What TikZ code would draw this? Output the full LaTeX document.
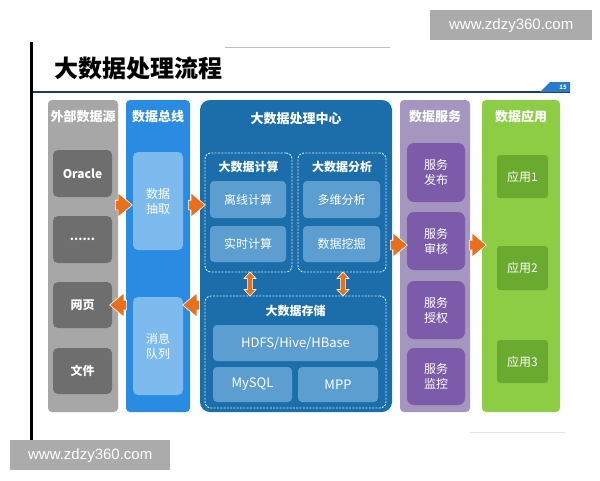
\documentclass[tikz,border=0pt]{standalone}
\usepackage{fontspec}
\newfontfamily\cjk{Noto Sans CJK SC}
\newfontfamily\wm{Liberation Sans}
\usetikzlibrary{shapes.arrows,fit}
\definecolor{cgray}{HTML}{A7A7A7}
\definecolor{cgrayin}{HTML}{6E6E6E}
\definecolor{cblue}{HTML}{2A8BE2}
\definecolor{cbluein}{HTML}{7DBBEE}
\definecolor{cdark}{HTML}{1C6EAA}
\definecolor{cdarkin}{HTML}{5C9ED0}
\definecolor{cpur}{HTML}{A596BF}
\definecolor{cpurin}{HTML}{7B5BAA}
\definecolor{cgreen}{HTML}{8DCD46}
\definecolor{cgreenin}{HTML}{6AAB2F}
\definecolor{corange}{HTML}{E8701C}
\definecolor{cnavy}{HTML}{1F3A5F}
\definecolor{cdash}{HTML}{CFE6F7}
\tikzset{
  col/.style={rectangle,rounded corners=4pt,inner sep=0pt},
  inbox/.style={rectangle,rounded corners=5pt,inner sep=0pt,text=white,font=\cjk\bfseries\fontsize{12}{14}\selectfont,align=center},
  ttl/.style={text=white,font=\cjk\bfseries\fontsize{13}{15}\selectfont},
  dbox/.style={rectangle,rounded corners=6pt,inner sep=0pt,draw=cdash,line width=0.9pt,dash pattern=on 2pt off 1.3pt},
  rarrow/.style={single arrow,fill=corange,draw=white,line width=0.6pt,minimum height=17pt,minimum width=16pt,inner sep=0pt,single arrow tip angle=80},
  larrow/.style={rarrow,shape border rotate=180},
  varrowpath/.style={fill=corange,draw=white,line width=0.6pt},
  wmark/.style={fill=black!33,text=white,font=\wm\fontsize{15}{17}\selectfont,inner sep=0pt,anchor=north west}
}
\newcommand\shaftbox{\vrule width 0pt height 9pt depth 0pt}
\begin{document}
\begin{tikzpicture}[x=1pt,y=-1pt]
\useasboundingbox[fill=white] (0,0) rectangle (600,480);
% frame decorations
\draw[line width=3pt,black] (31,42) -- (31,440);
\draw[black!25,line width=0.8pt] (225,47) -- (390,47);
\draw[cnavy,line width=1.2pt] (33,92) -- (570,92);
\fill[cblue!80!cnavy] (540,92) -- (550,82) -- (570,82) -- (570,92) -- cycle;
\node[text=white,font=\cjk\bfseries\fontsize{6}{6}\selectfont,inner sep=0pt] (pg) at (563,87) {15};
\draw[black!10,line width=1pt] (470,432) -- (565,432);
\node[font=\cjk\bfseries\fontsize{24}{26}\selectfont,anchor=west,inner sep=0pt] (title) at (54,68) {大数据处理流程};
% watermarks
\node[wmark,minimum width=162pt,minimum height=30pt] (wm1) at (430,10) {};
\node[text=white,font=\wm\fontsize{15}{17}\selectfont] at (wm1.center) {www.zdzy360.com};
\node[wmark,minimum width=160pt,minimum height=30pt] (wm2) at (10,440) {};
\node[text=white,font=\wm\fontsize{15}{17}\selectfont] at (wm2.center) {www.zdzy360.com};
% columns
\node[col,fill=cgray,fit={(48,100) (118,412)}] (c1) {};
\node[col,fill=cblue,fit={(126,100) (190,412)}] (c2) {};
\node[col,fill=cdark,rounded corners=10pt,fit={(200,100) (392,412)}] (c3) {};
\node[col,fill=cpur,fit={(400,100) (470,412)}] (c4) {};
\node[col,fill=cgreen,fit={(482,100) (560,412)}] (c5) {};
\node[ttl] (t1) at (83,117) {外部数据源};
\node[ttl] (t2) at (158,117) {数据总线};
\node[ttl] (t3) at (296,119) {大数据处理中心};
\node[ttl] (t4) at (435,117) {数据服务};
\node[ttl] (t5) at (521,117) {数据应用};
% column 1
\node[inbox,fill=cgrayin,fit={(53,150) (112,197)}] (s1) {};
\node[inbox] at (s1.center) {Oracle};
\node[inbox,fill=cgrayin,fit={(53,216) (112,263)}] (s2) {};
\node[inbox] at (s2.center) {......};
\node[inbox,fill=cgrayin,fit={(53,282) (112,328)}] (s3) {};
\node[inbox] at (s3.center) {网页};
\node[inbox,fill=cgrayin,fit={(53,348) (112,394)}] (s4) {};
\node[inbox] at (s4.center) {文件};
% column 2
\node[inbox,fill=cbluein,fit={(133,152) (183,250)}] (b1) {};
\node[inbox,font=\cjk\fontsize{12}{15}\selectfont] at (b1.center) {数据\\抽取};
\node[inbox,fill=cbluein,fit={(133,297) (183,395)}] (b2) {};
\node[inbox,font=\cjk\fontsize{12}{15}\selectfont] at (b2.center) {消息\\队列};
% column 3
\node[dbox,fit={(205,153) (292,272)}] (g1) {};
\node[dbox,fit={(298,153) (386,272)}] (g2) {};
\node[dbox,fit={(205,296) (386,408)}] (g3) {};
\node[ttl,font=\cjk\bfseries\fontsize{12}{14}\selectfont] (g1t) at (248.5,167) {大数据计算};
\node[ttl,font=\cjk\bfseries\fontsize{12}{14}\selectfont] (g2t) at (342,167) {大数据分析};
\node[ttl,font=\cjk\bfseries\fontsize{12}{14}\selectfont] (g3t) at (295.5,311) {大数据存储};
\tikzset{dk/.style={inbox,fill=cdarkin,rounded corners=4pt}}
\node[dk,fit={(210,181) (286,218)}] (p1) {};
\node[inbox,font=\cjk\fontsize{12}{14}\selectfont] at (p1.center) {离线计算};
\node[dk,fit={(210,226) (286,262)}] (p2) {};
\node[inbox,font=\cjk\fontsize{12}{14}\selectfont] at (p2.center) {实时计算};
\node[dk,fit={(303,181) (380,218)}] (p3) {};
\node[inbox,font=\cjk\fontsize{12}{14}\selectfont] at (p3.center) {多维分析};
\node[dk,fit={(303,226) (380,262)}] (p4) {};
\node[inbox,font=\cjk\fontsize{12}{14}\selectfont] at (p4.center) {数据挖掘};
\node[dk,fit={(213,325) (378,361)}] (q1) {};
\node[inbox,font=\cjk\fontsize{13}{15}\selectfont] at (q1.center) {HDFS/Hive/HBase};
\node[dk,fit={(213,367) (292,402)}] (q2) {};
\node[inbox,font=\cjk\fontsize{13}{15}\selectfont] at (q2.center) {MySQL};
\node[dk,fit={(298,367) (378,402)}] (q3) {};
\node[inbox,font=\cjk\fontsize{13}{15}\selectfont] at (q3.center) {MPP};
% column 4
\tikzset{pu/.style={inbox,fill=cpurin,rounded corners=7pt,font=\cjk\fontsize{12}{15}\selectfont}}
\node[pu,fit={(407,143) (465,202)}] (v1) {};
\node[pu] at (v1.center) {服务\\发布};
\node[pu,fit={(407,212) (465,270)}] (v2) {};
\node[pu] at (v2.center) {服务\\审核};
\node[pu,fit={(407,281) (465,339)}] (v3) {};
\node[pu] at (v3.center) {服务\\授权};
\node[pu,fit={(407,348) (465,405)}] (v4) {};
\node[pu] at (v4.center) {服务\\监控};
% column 5
\tikzset{gr/.style={inbox,fill=cgreenin,rounded corners=3pt,font=\cjk\fontsize{12}{14}\selectfont}}
\node[gr,fit={(497,155) (548,198)}] (a1) {};
\node[gr] at (a1.center) {应用1};
\node[gr,fit={(497,246) (548,290)}] (a2) {};
\node[gr] at (a2.center) {应用2};
\node[gr,fit={(497,340) (548,383)}] (a3) {};
\node[gr] at (a3.center) {应用3};
% arrows
\node[rarrow] (r1) at (121,205) {\shaftbox};
\node[rarrow] (r2) at (194,205) {\shaftbox};
\node[rarrow] (r3) at (396,245) {\shaftbox};
\node[rarrow] (r4) at (475,245) {\shaftbox};
\node[larrow] (l1) at (121,305) {\shaftbox};
\node[larrow] (l2) at (194,305) {\shaftbox};
\coordinate (d1) at (250,284);
\coordinate (d2) at (343,284);
\foreach \d in {d1,d2}{
  \path[varrowpath,shift={(\d)}] (0,-12) -- (6,-5.5) -- (2.6,-5.5) -- (2.6,5.5) -- (6,5.5) -- (0,12) -- (-6,5.5) -- (-2.6,5.5) -- (-2.6,-5.5) -- (-6,-5.5) -- cycle;
}
\end{tikzpicture}
\end{document}
